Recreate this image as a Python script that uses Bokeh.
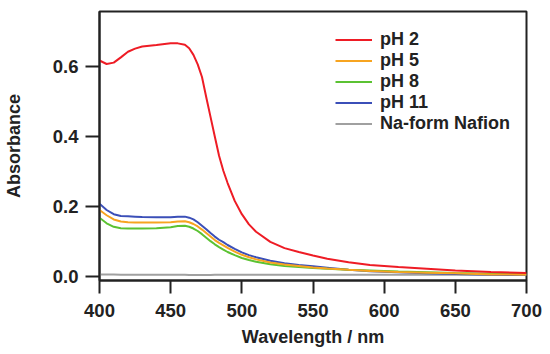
from bokeh.plotting import figure
from bokeh.models import Range1d, FixedTicker, PrintfTickFormatter, Legend, LegendItem
from bokeh.embed import file_html
from bokeh.resources import INLINE

# ---- data ----
wavelength = [400, 405, 410, 415, 420, 425, 430, 440, 450, 455, 460, 463, 466, 469,
              472, 475, 478, 481, 484, 487, 490, 495, 500, 505, 510, 520, 530, 540,
              550, 560, 575, 590, 610, 630, 650, 675, 700]

ph2 = [0.617, 0.607, 0.611, 0.626, 0.642, 0.651, 0.657, 0.661, 0.666, 0.666, 0.662,
       0.652, 0.633, 0.606, 0.570, 0.512, 0.456, 0.400, 0.345, 0.302, 0.267, 0.216,
       0.178, 0.149, 0.128, 0.099, 0.081, 0.070, 0.060, 0.051, 0.041, 0.033, 0.027,
       0.022, 0.017, 0.013, 0.010]

ph5 = [0.190, 0.175, 0.163, 0.157, 0.155, 0.154, 0.154, 0.154, 0.155, 0.157, 0.158,
       0.155, 0.150, 0.143, 0.134, 0.124, 0.114, 0.104, 0.096, 0.089, 0.082, 0.071,
       0.062, 0.055, 0.049, 0.040, 0.034, 0.030, 0.026, 0.023, 0.019, 0.016, 0.013,
       0.011, 0.009, 0.006, 0.005]

ph8 = [0.168, 0.152, 0.142, 0.138, 0.137, 0.137, 0.137, 0.138, 0.141, 0.144, 0.145,
       0.142, 0.137, 0.130, 0.121, 0.111, 0.101, 0.092, 0.084, 0.077, 0.070, 0.061,
       0.053, 0.047, 0.042, 0.035, 0.030, 0.027, 0.024, 0.022, 0.019, 0.017, 0.014,
       0.012, 0.010, 0.008, 0.007]

ph11 = [0.208, 0.190, 0.178, 0.173, 0.172, 0.171, 0.170, 0.169, 0.169, 0.171, 0.171,
        0.168, 0.163, 0.155, 0.145, 0.135, 0.124, 0.114, 0.105, 0.098, 0.090, 0.079,
        0.069, 0.061, 0.055, 0.045, 0.038, 0.033, 0.029, 0.025, 0.019, 0.015, 0.012,
        0.009, 0.007, 0.005, 0.004]

nafion = [0.006, 0.006, 0.006, 0.005, 0.005, 0.005, 0.005, 0.005, 0.005, 0.005, 0.005,
          0.004, 0.004, 0.004, 0.004, 0.004, 0.004, 0.005, 0.005, 0.005, 0.005, 0.005,
          0.005, 0.005, 0.005, 0.005, 0.005, 0.005, 0.005, 0.005, 0.005, 0.005, 0.005,
          0.005, 0.005, 0.005, 0.005]

labels = ["pH 2", "pH 5", "pH 8", "pH 11", "Na-form Nafion"]
colors = ["#ee1c25", "#f7a420", "#5bc232", "#3b4fb8", "#a0a0a0"]
series = [ph2, ph5, ph8, ph11, nafion]

x_ticks = [400, 450, 500, 550, 600, 650, 700]
y_ticks = [0.0, 0.2, 0.4, 0.6]

FONT = "Liberation Sans"
TXT = "#222222"

p = figure(width=548, height=352, output_backend="svg", toolbar_location=None,
           x_range=Range1d(400, 700), y_range=Range1d(-0.0114, 0.757),
           min_border_left=96, min_border_right=22, min_border_top=11,
           min_border_bottom=72)
p.background_fill_color = "white"
p.border_fill_color = "white"
p.outline_line_color = "#222222"
p.outline_line_width = 2
p.xgrid.visible = False
p.ygrid.visible = False

# draw back to front
renderers = {}
for lab, col, ys in reversed(list(zip(labels, colors, series))):
    renderers[lab] = p.line(wavelength, ys, line_color=col, line_width=2)

for ax in (p.xaxis[0], p.yaxis[0]):
    ax.axis_line_width = 2
    ax.axis_line_color = "#222222"
    ax.major_tick_line_width = 2
    ax.major_tick_line_color = "#222222"
    ax.major_tick_in = 0
    ax.minor_tick_line_color = None
    ax.major_label_text_font = FONT
    ax.major_label_text_font_style = "bold"
    ax.major_label_text_font_size = "18.5px"
    ax.major_label_text_color = TXT
    ax.axis_label_text_font = FONT
    ax.axis_label_text_font_style = "bold"
    ax.axis_label_text_font_size = "18px"
    ax.axis_label_text_color = TXT

p.xaxis.ticker = FixedTicker(ticks=x_ticks)
p.yaxis.ticker = FixedTicker(ticks=y_ticks)
p.yaxis.formatter = PrintfTickFormatter(format="%.1f")
p.xaxis.major_tick_out = 13
p.yaxis.major_tick_out = 14
p.xaxis.major_label_standoff = 10
p.yaxis.major_label_standoff = 7
p.xaxis.axis_label = "Wavelength / nm"
p.yaxis.axis_label = "Absorbance"
p.xaxis.axis_label_standoff = 7
p.yaxis.axis_label_standoff = 26

legend = Legend(items=[LegendItem(label=lab, renderers=[renderers[lab]]) for lab in labels],
                location=(236, 146), padding=0, margin=0, spacing=0,
                glyph_width=37, glyph_height=21, label_height=21, label_standoff=8,
                border_line_color=None, background_fill_alpha=0)
legend.label_text_font = FONT
legend.label_text_font_style = "bold"
legend.label_text_font_size = "18px"
legend.label_text_color = TXT
p.add_layout(legend)

open("out.html", "w").write(file_html(p, INLINE))
